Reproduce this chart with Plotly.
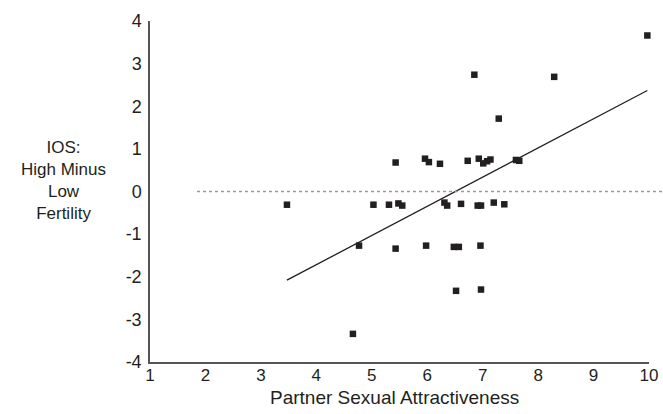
import plotly.graph_objects as go

# Partner sexual attractiveness (x) vs IOS change high minus low fertility (y)
attractiveness = [3.47, 4.66, 4.77, 5.03, 5.31, 5.43, 5.43, 5.48, 5.55, 5.96,
                  5.98, 6.03, 6.23, 6.31, 6.36, 6.48, 6.52, 6.57, 6.61, 6.73,
                  6.85, 6.91, 6.93, 6.96, 6.97, 6.97, 7.01, 7.08, 7.14, 7.20,
                  7.29, 7.39, 7.60, 7.66, 8.29, 9.97]
ios_diff = [-0.31, -3.34, -1.27, -0.31, -0.31, 0.68, -1.34, -0.28, -0.33, 0.77,
            -1.27, 0.69, 0.65, -0.26, -0.33, -1.30, -2.33, -1.30, -0.29, 0.72,
            2.74, -0.33, 0.77, -1.27, -0.33, -2.30, 0.66, 0.71, 0.75, -0.26,
            1.71, -0.30, 0.74, 0.72, 2.69, 3.66]

# Regression line
fit_x = [3.47, 9.97]
fit_y = [-2.08, 2.37]

x_ticks = [1, 2, 3, 4, 5, 6, 7, 8, 9, 10]
y_ticks = [-4, -3, -2, -1, 0, 1, 2, 3, 4]

y_title_lines = ["IOS:", "High Minus", "Low", "Fertility"]
x_title = "Partner Sexual Attractiveness"

ink = "#231f20"
font_family = "Liberation Sans, Arial, sans-serif"

# page layout (body margin removed below, figure fills the window)
W, H = 663, 414
ML, MR, MT, MB = 150, 14, 21, 52
PW, PH = W - ML - MR, H - MT - MB


def px_to_paper(px, py):
    """Convert page pixel position to paper coordinates."""
    return (px - ML) / PW, (H - MB - py) / PH


fig = go.Figure()
fig.add_trace(go.Scatter(
    x=fit_x, y=fit_y, mode="lines",
    line=dict(color=ink, width=1.3), hoverinfo="skip", showlegend=False))
fig.add_trace(go.Scatter(
    x=attractiveness, y=ios_diff, mode="markers",
    marker=dict(symbol="square", size=6.5, color=ink, line=dict(width=0)),
    showlegend=False, cliponaxis=False))

# dotted zero reference line
x0p, _ = px_to_paper(197, 0)
x1p, _ = px_to_paper(663, 0)
fig.add_shape(type="line", xref="paper", yref="y",
              x0=x0p, x1=x1p, y0=0, y1=0,
              line=dict(color="#9a9a9a", width=1.5, dash="dot"))

fig.update_xaxes(range=[1, 10], tickvals=x_ticks, ticktext=[str(v) for v in x_ticks],
                 showgrid=False, zeroline=False, showline=True, automargin=False,
                 linecolor="#555555", linewidth=1.5, ticks="",
                 ticklabelstandoff=-3,
                 tickfont=dict(size=17, color=ink, family=font_family))
fig.update_yaxes(range=[-4, 4], tickvals=y_ticks, ticktext=[str(v) for v in y_ticks],
                 showgrid=False, zeroline=False, showline=True, automargin=False,
                 linecolor="#555555", linewidth=1.5, ticks="",
                 ticklabelstandoff=3,
                 tickfont=dict(size=18, color=ink, family=font_family))

# y title
ax, ay = px_to_paper(63, 180)
fig.add_annotation(text="<br>".join(y_title_lines), xref="paper", yref="paper",
                   x=ax, y=ay, xanchor="center", yanchor="middle",
                   showarrow=False, align="center",
                   font=dict(size=17, color=ink, family=font_family))

# x title
ax, ay = px_to_paper(394.5, 398)
fig.add_annotation(text=x_title, xref="paper", yref="paper", x=ax, y=ay,
                   xanchor="center", yanchor="middle", showarrow=False,
                   font=dict(size=19, color=ink, family=font_family))

fig.update_layout(
    width=W, height=H,
    margin=dict(l=ML, r=MR, t=MT, b=MB),
    plot_bgcolor="white", paper_bgcolor="white",
    font=dict(family=font_family, color=ink),
)

fig.write_html(
    "out.html",
    config={"displayModeBar": False},
    post_script="document.body.style.margin='0';"
                "document.body.style.overflow='hidden';",
)
